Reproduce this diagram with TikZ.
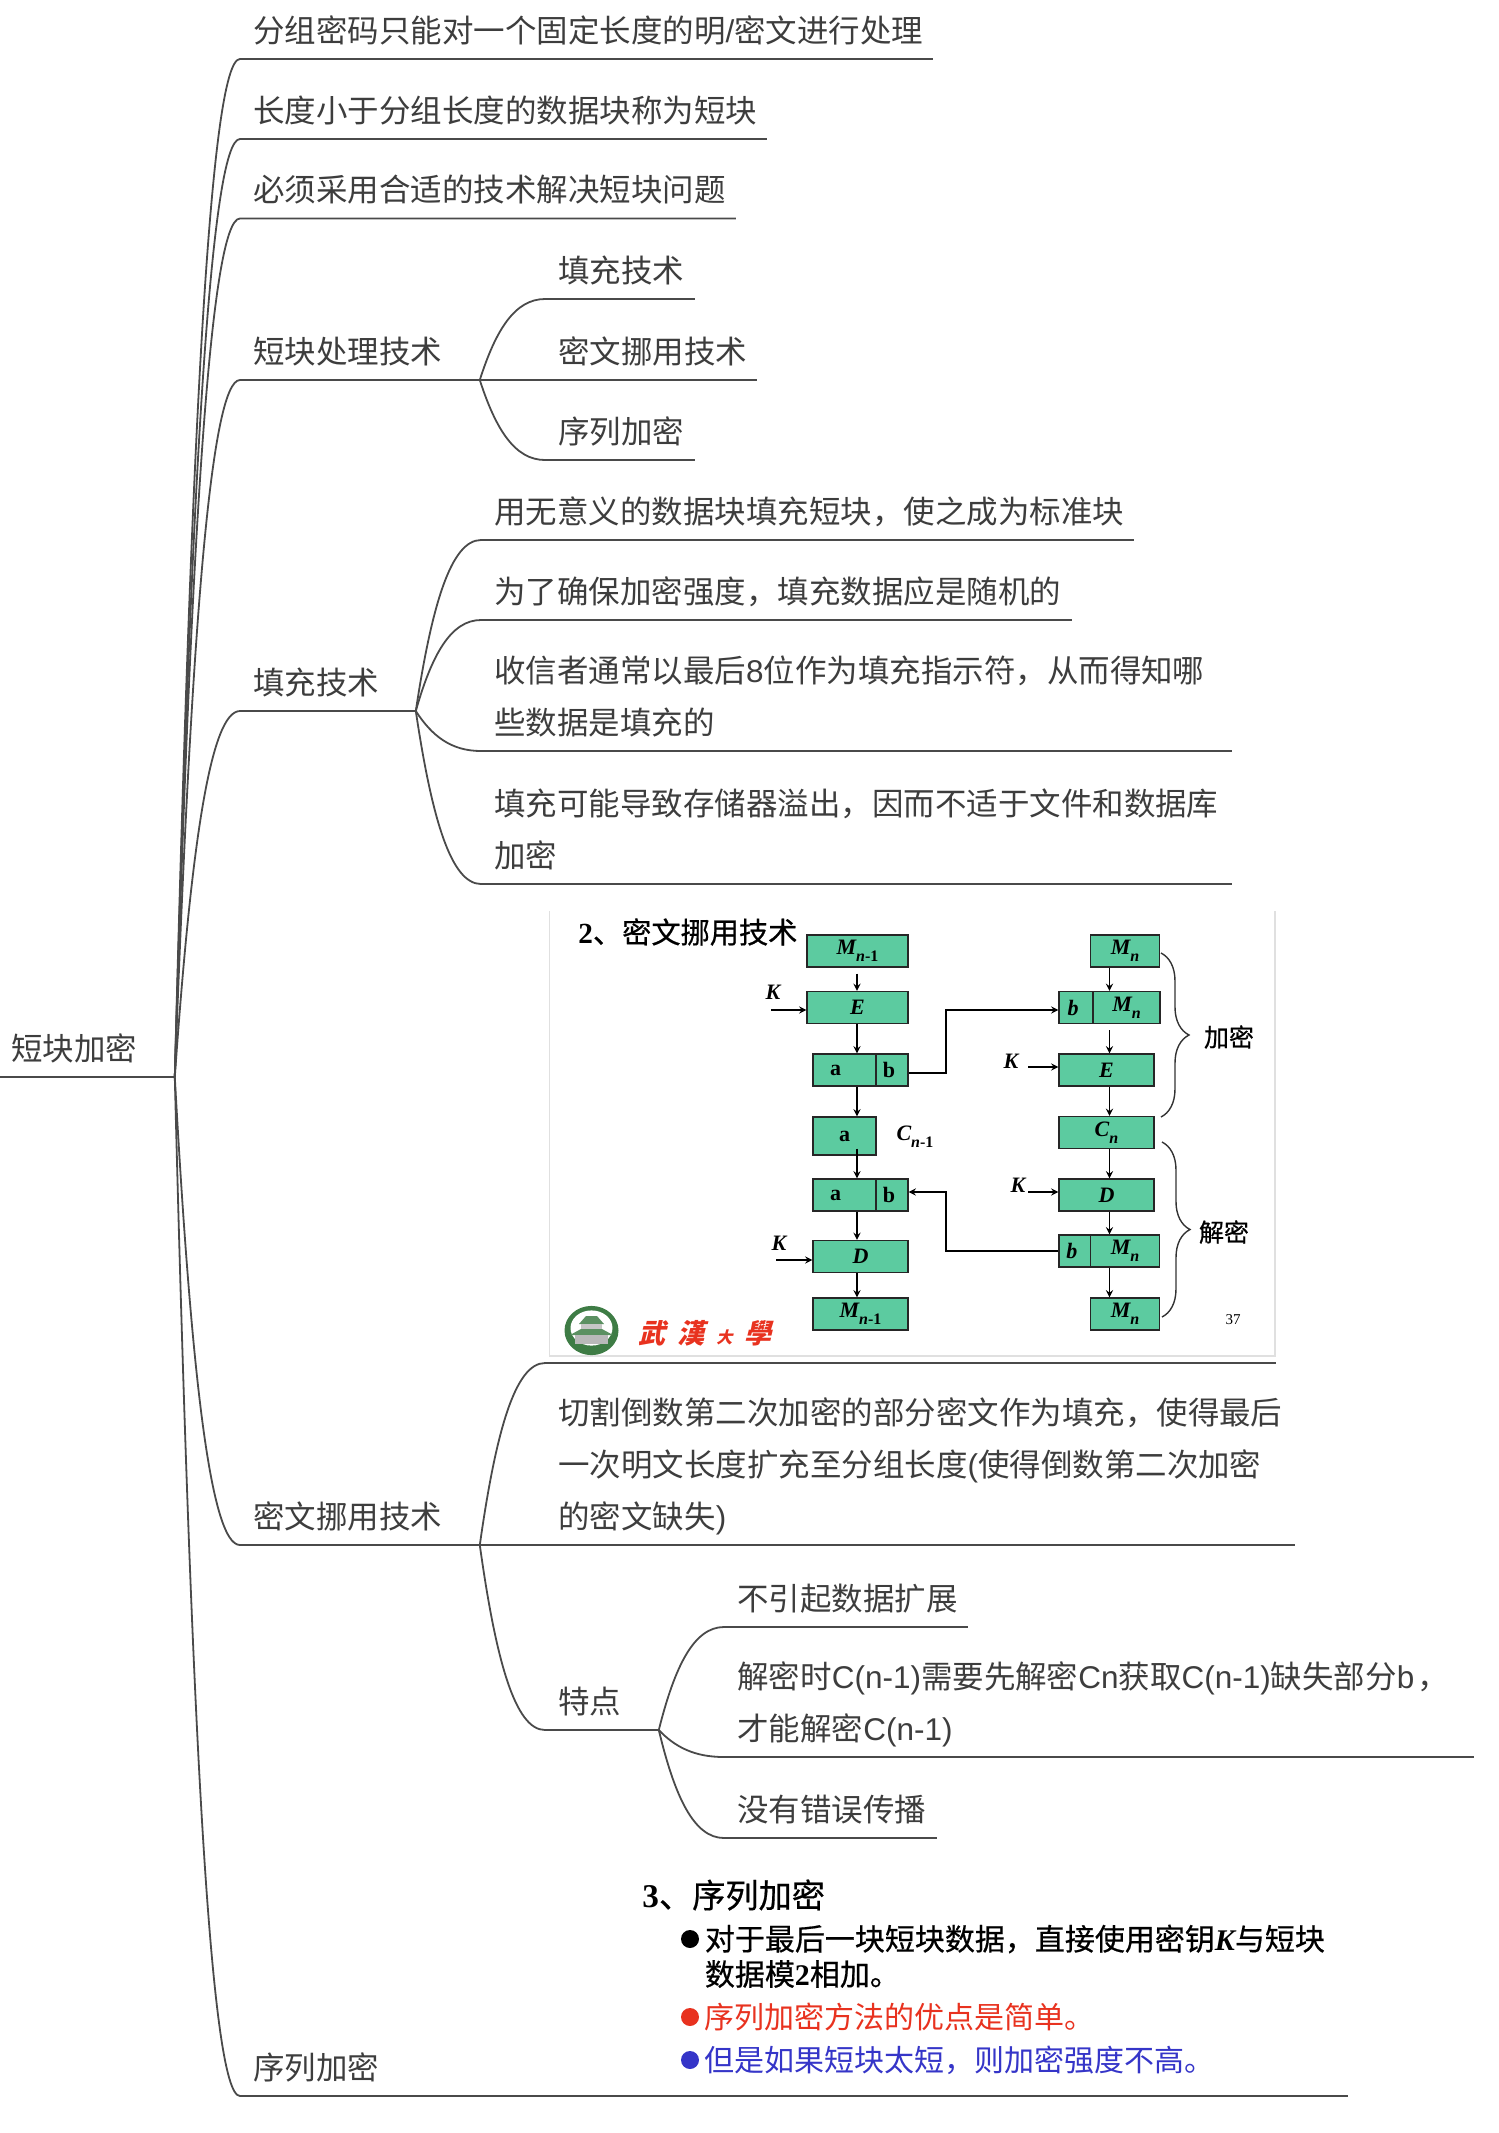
\documentclass[tikz,border=0pt]{standalone}
\usepackage{fontspec}
\usepackage{amsmath}
\usepackage{xcolor}
\usetikzlibrary{calc, decorations.pathreplacing}

\newfontfamily\cjk{Noto Sans CJK SC}
\newfontfamily\cjkmid[FakeBold=0.6]{Noto Sans CJK SC}
\newfontfamily\cjkslant[FakeSlant=0.25]{Noto Sans CJK SC}
\newfontfamily\slidelatin{Liberation Serif}
\newfontfamily\topiclatin{Liberation Sans}
\newcommand{\lat}[1]{{\topiclatin #1}}
\newcommand{\topicfont}{\cjk\fontsize{15.74}{26}\selectfont}
\newcommand{\boxfont}{\slidelatin\fontsize{11}{12}\selectfont\bfseries}
\newcommand{\lowsub}[1]{\raisebox{-0.7ex}{\fontsize{8}{8}\selectfont #1}}

\definecolor{inkgray}{HTML}{3D3D3D}
\definecolor{linegray}{HTML}{4A4A4A}
\definecolor{boxgreen}{HTML}{5CCBA0}
\definecolor{slidered}{HTML}{E8321F}
\definecolor{slideblue}{HTML}{3535C8}
\definecolor{sealgreen}{HTML}{3E7C45}

\tikzset{
    topic/.style={anchor=south west, align=left, text width=#1, inner xsep=6.5pt, inner ysep=4.3pt,
        text=inkgray, font=\topicfont, execute at end node={\rule[-4pt]{0pt}{0pt}}},
    link/.style={draw=linegray, line width=0.9pt},
    branch/.style={to path={.. controls ($(\tikztostart)!0.62!(\tikztostart|-\tikztotarget)+(16,0)$)
        and ($(\tikztotarget)+(-30,0)$) .. (\tikztotarget)}},
    cell/.style={draw=black!85, fill=boxgreen, line width=0.7pt, inner sep=0pt, minimum height=16pt,
        minimum width=#1, font=\boxfont},
    flow/.style={line width=0.6pt, black},
    keylabel/.style={font=\boxfont\itshape},
    sidebrace/.style={decorate, decoration={brace, amplitude=14pt}, line width=0.7pt, black!80},
    slidetext/.style={anchor=west, inner sep=0pt, font=\cjk\fontsize{15}{16}\selectfont},
}

\begin{document}
\begin{tikzpicture}[>=stealth, x=0.5pt, y=-0.5pt]
    \useasboundingbox (0, 0) rectangle (1499, 2133);

    % Root
    \node[topic=76pt, inner xsep=5.5pt] (root) at (0, 1077) {短块加密};

    % First level
    \node[topic=333pt] (goal) at (240, 59) {分组密码只能对一个固定长度的明\lat{/}密文进行处理};
    \node[topic=250pt] (short) at (240, 139) {长度小于分组长度的数据块称为短块};
    \node[topic=234.5pt] (solve) at (240, 218.5) {必须采用合适的技术解决短块问题};
    \node[topic=106.5pt] (tech) at (240, 380) {短块处理技术};
    \node[topic=74.5pt] (pad) at (240, 711) {填充技术};
    \node[topic=106.5pt] (steal) at (240, 1545) {密文挪用技术};
    \node[topic=540.5pt] (stream) at (240, 2096) {序列加密};

    % Handling techniques
    \node[topic=61.5pt] (techa) at (545, 299) {填充技术};
    \node[topic=92.5pt] (techb) at (545, 380) {密文挪用技术};
    \node[topic=61.5pt] (techc) at (545, 460) {序列加密};

    % Padding
    \node[topic=313pt] (pada) at (481, 540) {用无意义的数据块填充短块，使之成为标准块};
    \node[topic=282pt] (padb) at (481, 620) {为了确保加密强度，填充数据应是随机的};
    \node[topic=362pt] (padc) at (481, 751) {收信者通常以最后\lat{8}位作为填充指示符，从而得知哪\\些数据是填充的};
    \node[topic=362pt] (padd) at (481, 884) {填充可能导致存储器溢出，因而不适于文件和数据库\\加密};

    % Ciphertext stealing
    \node[anchor=south west, inner sep=0pt, minimum width=365pt, minimum height=226pt] (slide) at (545, 1363) {};
    \node[topic=361.5pt] (stealb) at (545, 1545) {切割倒数第二次加密的部分密文作为填充，使得最后\\一次明文长度扩充至分组长度\lat{(}使得倒数第二次加密\\的密文缺失\lat{)}};
    \node[topic=43.5pt] (feat) at (545, 1730) {特点};
    \node[topic=108.5pt] (feata) at (724, 1627) {不引起数据扩展};
    \node[topic=361.5pt] (featb) at (724, 1757) {解密时\lat{C(n-1)}需要先解密\lat{Cn}获取\lat{C(n-1)}缺失部分\lat{b}\hspace{1.5pt}，\\才能解密\lat{C(n-1)}};
    \node[topic=93pt] (featc) at (724, 1838) {没有错误传播};

    % Edges
    \draw[link] (root.south west) -- (root.south east);
    \draw[link] (root.south east) to[branch] (goal.south west) -- (goal.south east);
    \draw[link] (root.south east) to[branch] (short.south west) -- (short.south east);
    \draw[link] (root.south east) to[branch] (solve.south west) -- (solve.south east);
    \draw[link] (root.south east) to[branch] (tech.south west) -- (tech.south east);
    \draw[link] (root.south east) to[branch] (pad.south west) -- (pad.south east);
    \draw[link] (root.south east) to[branch] (steal.south west) -- (steal.south east);
    \draw[link] (root.south east) to[branch] (stream.south west) -- (stream.south east);
    \draw[link] (tech.south east) to[branch] (techa.south west) -- (techa.south east);
    \draw[link] (tech.south east) to[branch] (techb.south west) -- (techb.south east);
    \draw[link] (tech.south east) to[branch] (techc.south west) -- (techc.south east);
    \draw[link] (pad.south east) to[branch] (pada.south west) -- (pada.south east);
    \draw[link] (pad.south east) to[branch] (padb.south west) -- (padb.south east);
    \draw[link] (pad.south east) to[branch] (padc.south west) -- (padc.south east);
    \draw[link] (pad.south east) to[branch] (padd.south west) -- (padd.south east);
    \draw[link] (steal.south east) to[branch] (slide.south west) -- (slide.south east);
    \draw[link] (steal.south east) to[branch] (stealb.south west) -- (stealb.south east);
    \draw[link] (steal.south east) to[branch] (feat.south west) -- (feat.south east);
    \draw[link] (feat.south east) to[branch] (feata.south west) -- (feata.south east);
    \draw[link] (feat.south east) to[branch] (featb.south west) -- (featb.south east);
    \draw[link] (feat.south east) to[branch] (featc.south west) -- (featc.south east);

    % Slide frame and title
    \draw[black!12, line width=0.7pt] (549.5, 911) -- (549.5, 1356) -- (1275, 1356) -- (1275, 911);
    \node[anchor=west, inner sep=0pt, font=\cjkmid\fontsize{14.6}{16}\selectfont] (slidetitle) at (578, 932)
        {{\slidelatin\bfseries 2}、密文挪用技术};

    % Left column
    \node[cell=50.5pt] (mleft) at (857.5, 951) {\itshape M\lowsub{n\upshape -1}};
    \node[cell=50.5pt] (eleft) at (857.5, 1007.5) {\itshape E};
    \node[cell=31.5pt] (acell) at (844.5, 1070) {a\kern9pt};
    \node[cell=16pt] (bcell) at (892, 1070) {b\kern3pt};
    \node[cell=31.5pt, minimum height=19pt] (aonly) at (844.5, 1136) {a};
    \node[cell=31.5pt] (adec) at (844.5, 1195) {a\kern9pt};
    \node[cell=16pt] (bdec) at (892, 1195) {b\kern3pt};
    \node[cell=47.5pt] (dleft) at (860.5, 1256.5) {\itshape D};
    \node[cell=47.5pt] (mout) at (860.5, 1314) {\itshape M\lowsub{n\upshape -1}};
    \node[keylabel] (cprev) at (915, 1137) {C\lowsub{n\upshape -1}};

    % Right column
    \node[cell=34.75pt] (mright) at (1125, 951) {\itshape M\lowsub{n}};
    \node[cell=17pt] (benc) at (1076, 1007.5) {\itshape b\kern3pt};
    \node[cell=33.5pt] (menc) at (1126.5, 1007.5) {\itshape M\lowsub{n}};
    \node[cell=47.5pt] (eright) at (1106.5, 1070) {\itshape E};
    \node[cell=47.5pt] (clast) at (1106.5, 1132.5) {\itshape C\lowsub{n}};
    \node[cell=47.5pt] (dright) at (1106.5, 1195) {\itshape D};
    \node[cell=15.75pt] (bout) at (1074.75, 1251) {\itshape b\kern3pt};
    \node[cell=34.75pt] (mdec) at (1125, 1251) {\itshape M\lowsub{n}};
    \node[cell=34.75pt] (mlast) at (1125, 1314) {\itshape M\lowsub{n}};

    % Key inputs
    \node[keylabel] (ka) at (773, 992) {K};
    \node[keylabel] (kb) at (1011, 1061) {K};
    \node[keylabel] (kc) at (1018, 1185) {K};
    \node[keylabel] (kd) at (779, 1243) {K};
    \coordinate (kastart) at (771, 1010);
    \coordinate (kbstart) at (1028, 1067);
    \coordinate (kcstart) at (1028, 1192);
    \coordinate (kdstart) at (776, 1260);
    \draw[->, flow] (kastart) -- (eleft.west |- kastart);
    \draw[->, flow] (kbstart) -- (eright.west |- kbstart);
    \draw[->, flow] (kcstart) -- (dright.west |- kcstart);
    \draw[->, flow] (kdstart) -- (dleft.west |- kdstart);

    % Vertical flow
    \coordinate (lx) at (857, 0);
    \coordinate (rx) at (1109.5, 0);
    \draw[->, flow, shorten <=3pt] (mleft.south -| lx) -- (eleft.north -| lx);
    \draw[->, flow] (eleft.south -| lx) -- (acell.north -| lx);
    \draw[->, flow] (acell.south -| lx) -- (aonly.north -| lx);
    \draw[->, flow, shorten <=-3.5pt] (aonly.south -| lx) -- (adec.north -| lx);
    \draw[->, flow] (adec.south -| lx) -- (dleft.north -| lx);
    \draw[->, flow] (dleft.south -| lx) -- (mout.north -| lx);
    \draw[->, flow] (mright.south -| rx) -- (menc.north -| rx);
    \draw[->, flow, shorten <=3pt] (menc.south -| rx) -- (eright.north -| rx);
    \draw[->, flow] (eright.south -| rx) -- (clast.north -| rx);
    \draw[->, flow] (clast.south -| rx) -- (dright.north -| rx);
    \draw[->, flow] (dright.south -| rx) -- (mdec.north -| rx);
    \draw[->, flow] (mdec.south -| rx) -- (mlast.north -| rx);

    % Cross links
    \coordinate (acrossx) at (946, 0);
    \coordinate (enclink) at (0, 1010);
    \coordinate (declink) at (0, 1192);
    \draw[->, flow] (bcell.east |- 0, 1073) -- (acrossx |- 0, 1073) -- (acrossx |- enclink) -- (benc.west |- enclink);
    \draw[->, flow] (bout.west) -- (acrossx |- bout.west) -- (acrossx |- declink) -- (bdec.east |- declink);

    % Braces
    \draw[sidebrace] (1161, 953) -- (1161, 1117);
    \draw[sidebrace] (1162, 1142) -- (1162, 1317);
    \node[font=\cjkmid\fontsize{12.5}{14}\selectfont, inner sep=0pt] (enclabel) at (1229, 1037) {加密};
    \node[font=\cjkmid\fontsize{12.5}{14}\selectfont, inner sep=0pt] (declabel) at (1224, 1232) {解密};
    \node[font=\slidelatin\fontsize{7.5}{8}\selectfont, inner sep=0pt] (pageno) at (1233, 1320) {37};

    % University seal and name
    \fill[sealgreen] (591.5, 1330.5) ellipse [x radius=13.5pt, y radius=12.3pt];
    \fill[white] (591.5, 1328) ellipse [x radius=10.5pt, y radius=8.8pt];
    \fill[sealgreen!85] (579, 1324) -- (604, 1324) -- (597, 1316) -- (586, 1316) -- cycle;
    \fill[gray!45] (581, 1324) rectangle (602, 1333);
    \fill[sealgreen!85] (570, 1335) -- (613, 1335) -- (602, 1329) -- (581, 1329) -- cycle;
    \fill[gray!55] (575, 1335) rectangle (608, 1344);
    \node[anchor=west, inner sep=0pt, text=slidered, font=\cjkslant\bfseries\fontsize{13.5}{16}\selectfont] (sealname) at (638, 1333) {武\kern6pt 漢\kern6pt{\fontsize{8}{8}\selectfont 大}\kern6pt 學};

    % Stream encryption slide
    \node[anchor=west, inner sep=0pt, font=\cjkmid\fontsize{16.6}{18}\selectfont] (streamtitle) at (642, 1895) {{\slidelatin\bfseries 3}、序列加密};
    \fill[black] (690, 1939) circle [radius=4.5pt];
    \fill[slidered] (690, 2017) circle [radius=4.5pt];
    \fill[slideblue] (690, 2060) circle [radius=4.5pt];
    \node[slidetext, font=\cjkmid\fontsize{15}{16}\selectfont] (streama) at (704.5, 1939) {对于最后一块短块数据，直接使用密钥{\slidelatin\bfseries\itshape K}与短块};
    \node[slidetext, font=\cjkmid\fontsize{15}{16}\selectfont] (streamb) at (704.5, 1974) {数据模{\slidelatin\bfseries 2}相加。};
    \node[slidetext, text=slidered] (streamc) at (704.5, 2017) {序列加密方法的优点是简单。};
    \node[slidetext, text=slideblue] (streamd) at (704.5, 2060) {但是如果短块太短，则加密强度不高。};
\end{tikzpicture}
\end{document}
